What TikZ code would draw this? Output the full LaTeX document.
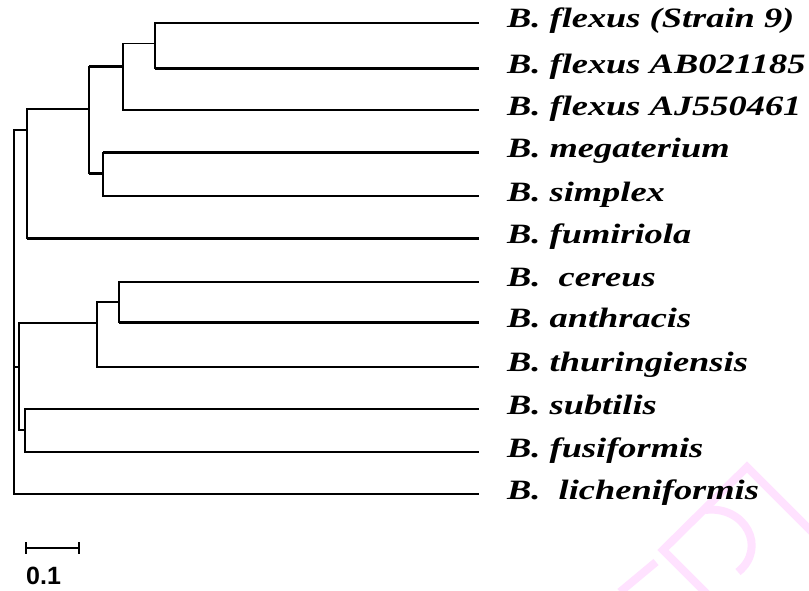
\documentclass[tikz,border=0pt]{standalone}
\usepackage{fontspec}
\usetikzlibrary{calc}
\newfontfamily\labfont{Liberation Serif}[FakeStretch=1.3]
\newfontfamily\barfont{Liberation Sans}
\definecolor{wmark}{RGB}{255,226,255}
\begin{document}
\begin{tikzpicture}[x=1pt, y=-1pt,
  branch/.style={line width=1.9pt, black},
  heavy/.style={line width=3pt, black},
  wm/.style={line width=8pt, wmark},
  lab/.style={anchor=base west, inner sep=0pt,
    font=\labfont\bfseries\itshape\fontsize{28}{30}\selectfont},
  scalelab/.style={anchor=base west, inner sep=0pt,
    font=\barfont\bfseries\fontsize{25}{25}\selectfont}]
\useasboundingbox (0,0) rectangle (809,590);
\fill[white] (0,0) rectangle (809,590);

% faint background stamp, cut at the page edge
\begin{scope}
  \clip (0,0) rectangle (809,590);
  \draw[wm] (722,609) -- (663,550) -- (747,467) -- (822,542);
  \draw[wm] (705,510) .. controls (745,505) and (768,548) .. (738,572);
  \draw[wm] (620,592) -- (656,562);
\end{scope}

% internal nodes (x of the vertical bar, y where it joins its parent)
\coordinate (root) at (14,312);
\coordinate (na) at (27,130);
\coordinate (n4) at (89,109);
\coordinate (n2) at (123,66.7);
\coordinate (n1) at (155,43.5);
\coordinate (n3) at (103,173);
\coordinate (ng) at (19,367);
\coordinate (nh) at (97,323.3);
\coordinate (nk) at (119,301.7);
\coordinate (ni) at (25,430);

% leaf tips
\coordinate (l1) at (479,23);
\coordinate (l2) at (479,68);
\coordinate (l3) at (479,110);
\coordinate (l4) at (479,152.7);
\coordinate (l5) at (479,196);
\coordinate (l6) at (479,238);
\coordinate (l7) at (479,281.7);
\coordinate (l8) at (479,322.3);
\coordinate (l9) at (479,366.7);
\coordinate (l10) at (479,409);
\coordinate (l11) at (479,452);
\coordinate (l12) at (479,494);

% branches
\draw[branch] (root) |- (na);
\draw[branch] (root) |- (ng);
\draw[branch] (root) |- (l12);
\draw[branch] (na) |- (n4);
\draw[branch] (na) |- (l6);
\draw[branch] (n4) |- (n2);
\draw[branch] (n4) |- (n3);
\draw[branch] (n2) |- (n1);
\draw[branch] (n2) |- (l3);
\draw[branch] (n1) |- (l1);
\draw[branch] (n1) |- (l2);
\draw[branch] (n3) |- (l4);
\draw[branch] (n3) |- (l5);
\draw[branch] (ng) |- (nh);
\draw[branch] (ng) |- (ni);
\draw[branch] (nh) |- (nk);
\draw[branch] (nh) |- (l9);
\draw[branch] (nk) |- (l7);
\draw[branch] (nk) |- (l8);
\draw[branch] (ni) |- (l10);
\draw[branch] (ni) |- (l11);

% heavier horizontal segments
\draw[heavy] (n1 |- l2) -- (l2);
\draw[heavy] (n4 |- n2) -- (n2);
\draw[heavy] (n4 |- n3) -- (n3);
\draw[heavy] (n3 |- l4) -- (l4);
\draw[heavy] (na |- l6) -- (l6);
\draw[heavy] (nk |- l8) -- (l8);

% taxon labels
\node[lab] (t1) at ([shift={(28,4)}]l1) {B. flexus (Strain 9)};
\node[lab] (t2) at ([shift={(28,5)}]l2) {B. flexus AB021185};
\node[lab] (t3) at ([shift={(28,5)}]l3) {B. flexus AJ550461};
\node[lab] (t4) at ([shift={(28,5)}]l4) {B. megaterium};
\node[lab] (t5) at ([shift={(28,5)}]l5) {B. simplex};
\node[lab] (t6) at ([shift={(28,5)}]l6) {B. fumiriola};
\node[lab] (t7) at ([shift={(28,5)}]l7) {B.\ \ cereus};
\node[lab] (t8) at ([shift={(28,5)}]l8) {B. anthracis};
\node[lab] (t9) at ([shift={(28,5)}]l9) {B. thuringiensis};
\node[lab] (t10) at ([shift={(28,5)}]l10) {B. subtilis};
\node[lab] (t11) at ([shift={(28,5)}]l11) {B. fusiformis};
\node[lab] (t12) at ([shift={(28,5)}]l12) {B.\ \ licheniformis};

% scale bar
\coordinate (s0) at (26,548);
\coordinate (s1) at (79,548);
\draw[branch] (s0) -- (s1);
\draw[branch] ([shift={(0,-6)}]s0) -- ([shift={(0,6)}]s0);
\draw[branch] ([shift={(0,-6)}]s1) -- ([shift={(0,6)}]s1);
\node[scalelab] (sl) at (26,584) {0.1};
\end{tikzpicture}
\end{document}
